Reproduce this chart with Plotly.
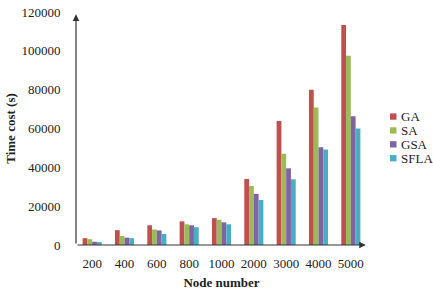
import plotly.graph_objects as go

categories = ["200", "400", "600", "800", "1000", "2000", "3000", "4000", "5000"]
ga = [3500, 7650, 10170, 12170, 13850, 34000, 63850, 80000, 113350]
sa = [3000, 4650, 8000, 10670, 13000, 30350, 47000, 70850, 97500]
gsa = [1700, 3800, 7500, 10170, 11670, 26350, 39500, 50350, 66350]
sfla = [1500, 3500, 5670, 9170, 10670, 23170, 33850, 49170, 60000]
series = [("GA", ga, "#C0504D"), ("SA", sa, "#9BBB59"), ("GSA", gsa, "#8064A2"), ("SFLA", sfla, "#4BACC6")]
yticks = [0, 20000, 40000, 60000, 80000, 100000, 120000]

FONT = "Liberation Serif"
W, H = 433, 296
L, R, T, B = 76, 66, 5, 51
fig = go.Figure()
for name, vals, col in series:
    fig.add_trace(go.Bar(x=categories, y=vals, name=name, marker=dict(color=col, line=dict(width=0)),
                         showlegend=False))

# manual legend (small squares + labels)
for i, (name, vals, col) in enumerate(series):
    yc = 1 - (112.7 + i * 14.3 - T) / (H - T - B)
    fig.add_shape(type="rect", xref="paper", yref="paper",
                  x0=(390 - L) / (W - L - R), x1=(396.5 - L) / (W - L - R),
                  y0=yc - 3.25 / (H - T - B), y1=yc + 3.25 / (H - T - B),
                  fillcolor=col, line=dict(width=0))
    fig.add_annotation(xref="paper", yref="paper", x=(398.5 - L) / (W - L - R), y=yc,
                       xanchor="left", yanchor="middle", showarrow=False, text=name,
                       font=dict(family=FONT, size=13, color="#222"))

fig.update_layout(
    width=W, height=H,
    margin=dict(l=L, r=R, t=T, b=B),
    paper_bgcolor="white", plot_bgcolor="white",
    barmode="group", bargap=0.41, bargroupgap=0,
    showlegend=False,
    font=dict(family=FONT, size=13, color="#222"),
    xaxis=dict(type="category", showline=False, showgrid=False, ticks="outside", ticklen=6,
               tickcolor="rgba(0,0,0,0)", tickfont=dict(family=FONT, size=13),
               title=dict(text="<b>Node number</b>", font=dict(family=FONT, size=13), standoff=8)),
    yaxis=dict(range=[0, 120000], tickvals=yticks, ticktext=[str(v) for v in yticks], showgrid=False,
               showline=False, zeroline=False, ticks="outside", ticklen=12, tickcolor="rgba(0,0,0,0)",
               tickfont=dict(family=FONT, size=13), ticklabeloverflow="allow",
               title=dict(text="<b>Time cost (s)</b>", font=dict(family=FONT, size=13), standoff=2)),
)
# axis lines with arrowheads
fig.add_annotation(xref="x domain", yref="y domain", axref="x domain", ayref="y domain",
                   x=0, y=0.99, ax=0, ay=0, showarrow=True, arrowhead=2, arrowsize=1.1,
                   arrowwidth=1.2, arrowcolor="#333", text="")
fig.add_annotation(xref="x domain", yref="y domain", axref="x domain", ayref="y domain",
                   x=0.996, y=0, ax=0, ay=0, showarrow=True, arrowhead=2, arrowsize=1.1,
                   arrowwidth=1.2, arrowcolor="#333", text="")
fig.write_html("out.html")
